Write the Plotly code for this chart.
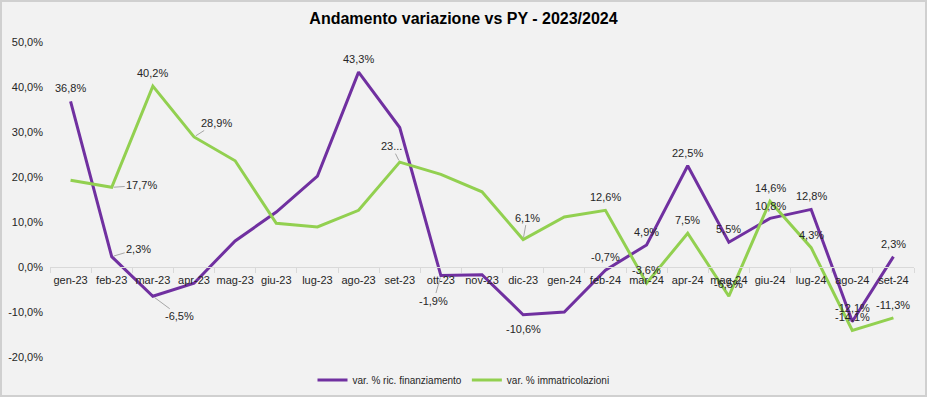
import plotly.graph_objects as go

categories = ["gen-23", "feb-23", "mar-23", "apr-23", "mag-23", "giu-23", "lug-23",
              "ago-23", "set-23", "ott-23", "nov-23", "dic-23", "gen-24", "feb-24",
              "mar-24", "apr-24", "mag-24", "giu-24", "lug-24", "ago-24", "set-24"]

fin_name = "var. % ric. finanziamento"
fin_values = [36.8, 2.3, -6.5, -3.6, 5.8, 12.2, 20.2, 43.3, 31.0, -1.9, -1.7,
              -10.6, -10.0, -0.7, 4.9, 22.5, 5.5, 10.8, 12.8, -12.1, 2.3]

imm_name = "var. % immatricolazioni"
imm_values = [19.3, 17.7, 40.2, 28.9, 23.6, 9.7, 8.9, 12.6, 23.3, 20.6, 16.7,
              6.1, 11.1, 12.6, -3.6, 7.5, -6.5, 14.6, 4.3, -14.1, -11.3]

y_ticks = [-20, -10, 0, 10, 20, 30, 40, 50]

title_text = "Andamento variazione vs PY - 2023/2024"

# label placement styles: index -> (dx, dy, leader)
fin_labels = {0: (0, -13, False), 1: (27, -8, True), 2: (27, 20, True), 7: (0, -13, False),
              9: (-7, 25, True), 11: (0, 14, False), 13: (0, -13, False), 14: (0, -13, False),
              15: (0, -13, False), 16: (0, -13, False), 17: (0, -12, False), 18: (0, -13, False),
              19: (0, -13, False), 20: (0, -13, False)}
imm_labels = {1: (30, -2, True), 2: (0, -13, False), 3: (22, -14, True), 8: (-8, -16, True),
              11: (4, -22, True), 13: (0, -13, False), 14: (0, -13, False), 15: (0, -13, False),
              16: (0, -12, False), 17: (0, -13, False), 18: (0, -13, False), 19: (0, -13, False),
              20: (0, -13, False)}
truncated = {("imm", 8): "23..."}

PURPLE = "#7030A0"
GREEN = "#92D050"
FONT = "Liberation Sans"
TXT = "#262626"


def fmt(v):
    return f"{v:.1f}".replace(".", ",") + "%"


fig = go.Figure()
fig.add_trace(go.Scatter(x=categories, y=fin_values, mode="lines", name=fin_name,
                         line=dict(color=PURPLE, width=3)))
fig.add_trace(go.Scatter(x=categories, y=imm_values, mode="lines", name=imm_name,
                         line=dict(color=GREEN, width=3)))

annotations = []
for key, vals, labels in (("fin", fin_values, fin_labels), ("imm", imm_values, imm_labels)):
    for i, (dx, dy, leader) in labels.items():
        txt = truncated.get((key, i), fmt(vals[i]))
        if leader:
            annotations.append(dict(x=categories[i], y=vals[i], xref="x", yref="y", text=txt,
                                    showarrow=True, arrowhead=0, arrowwidth=1,
                                    arrowcolor="#a6a6a6", ax=dx, ay=dy, standoff=2,
                                    font=dict(family=FONT, size=11, color=TXT)))
        else:
            annotations.append(dict(x=categories[i], y=vals[i], xref="x", yref="y", text=txt,
                                    showarrow=False, xshift=dx, yshift=-dy,
                                    font=dict(family=FONT, size=11, color=TXT)))

W, H = 927, 397
ml, mr, mt, mb = 50, 13, 42, 40
pw, ph = W - ml - mr, H - mt - mb
ymin, ymax = -20, 50

fig.update_layout(
    width=W, height=H,
    margin=dict(l=ml, r=mr, t=mt, b=mb, autoexpand=False),
    paper_bgcolor="#f2f2f2", plot_bgcolor="#f2f2f2",
    font=dict(family=FONT, size=11, color=TXT),
    title=dict(text="<b>" + title_text + "</b>", x=0.5, xanchor="center", y=1 - 18 / H,
               yanchor="middle", font=dict(family=FONT, size=16, color="#000000")),
    showlegend=True,
    legend=dict(orientation="h", x=(W / 2 - ml) / pw, xanchor="center", y=-23 / ph,
                yanchor="middle",
                font=dict(family=FONT, size=10, color=TXT), bgcolor="rgba(0,0,0,0)",
                itemwidth=30),
    xaxis=dict(type="category", anchor="free", position=(0 - ymin) / (ymax - ymin),
               showline=True, linecolor="#d9d9d9", linewidth=1, automargin=False,
               ticks="outside", ticklen=5, tickcolor="#d9d9d9", tickson="boundaries",
               tickangle=0, ticklabelstandoff=3,
               showgrid=False, zeroline=False, tickfont=dict(family=FONT, size=11, color=TXT),
               range=[-0.5, len(categories) - 0.5]),
    yaxis=dict(range=[ymin, ymax], tickvals=y_ticks, ticktext=[fmt(v) for v in y_ticks],
               showgrid=False, zeroline=False, showline=False, ticks="", automargin=False,
               ticklabelstandoff=6,
               tickfont=dict(family=FONT, size=11, color=TXT)),
    annotations=annotations,
    shapes=[dict(type="rect", xref="paper", yref="paper",
                 x0=-(ml - 1) / pw, x1=1 + (mr - 1) / pw, y0=-(mb - 1) / ph, y1=1 + (mt - 1) / ph,
                 line=dict(color="#d0d0d0", width=2), layer="below")],
)

fig.write_html("out.html", config={"displayModeBar": False},
               post_script="document.body.style.margin='0';")
